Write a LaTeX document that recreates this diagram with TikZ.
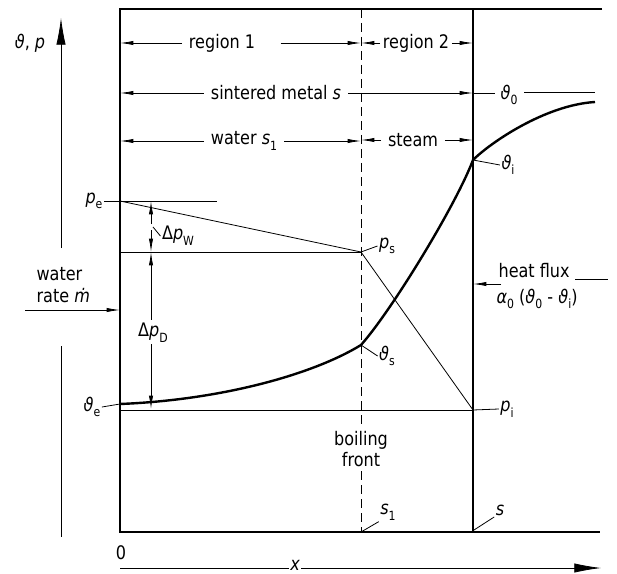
\documentclass[tikz,border=0pt]{standalone}
\usepackage{fontspec}
\setmainfont{DejaVu Sans}[FakeStretch=0.86]
\usetikzlibrary{arrows.meta}
\newcommand\sbs[1]{\raisebox{-0.55ex}{\fontsize{9.5}{10}\selectfont #1}}
\newcommand\itx[1]{{\itshape #1}}
\tikzset{
  every node/.style={font=\fontsize{14}{16}\selectfont, inner sep=1pt},
  thinline/.style={line width=0.6pt},
  arr/.style={thinline, -{Latex[length=10pt,width=3.2pt]}},
  bigarr/.style={thinline, -{Latex[length=20pt,width=7pt]}},
  wall/.style={line width=1.4pt},
  curve/.style={line width=1.8pt},
  front/.style={line width=0.7pt, dash pattern=on 7pt off 3.5pt},
  lbl/.style={inner sep=1pt},
  gap/.style={inner sep=5pt}
}
\begin{document}
\begin{tikzpicture}[x=0.75pt,y=-0.75pt]
\useasboundingbox (0,0) rectangle (617,574);
% frame coordinates
\coordinate (TL) at (120,9);
\coordinate (TR) at (602,9);
\coordinate (BL) at (120,532);
\coordinate (BR) at (600,532);
\coordinate (Ft) at (361,9);
\coordinate (Fb) at (361,532);
\coordinate (Wt) at (473,9);
\coordinate (Wb) at (473,532);
% key points
\coordinate (Pe) at (120,201);
\coordinate (PeEnd) at (217,201);
\coordinate (PsL) at (120,252);
\coordinate (Ps) at (361,252);
\coordinate (PiL) at (120,410);
\coordinate (Pi) at (473,410);
\coordinate (Te) at (120,404);
\coordinate (Ts) at (361,345);
\coordinate (Ti) at (473,160);
\coordinate (Tend) at (595,102);
\coordinate (T0end) at (595,92);
% frame
\draw[wall] (TR) -- (TL) -- (BL) -- (BR);
\draw[wall] (Wt) -- (Wb);
\draw[front] (Ft) -- (Fb);
% boiling front label (covers dashed line)
\node[fill=white, align=center, inner sep=3pt] (bf) at (361,449) {boiling\\front};
% axes
\coordinate (Yt) at (61,18);
\coordinate (Ym1) at (61,248);
\coordinate (Ym2) at (61,346);
\coordinate (Yb) at (61,537);
\draw[bigarr] (Ym1) -- (Yt);
\draw[thinline] (Ym2) -- (Yb);
\node[lbl] (ylab) at (30,43) {\itx{ϑ}, \itx{p}};
\node[lbl] (zero) at (121,553) {0};
\node[lbl] (xlab) at (295,565) {\itx{x}};
\coordinate (Xl) at (120,568);
\coordinate (Xr) at (601,568);
\draw[thinline] (Xl) -- (xlab.west |- Xl);
\draw[bigarr] (xlab.east |- Xr) -- (Xr);
% row 1: regions
\node[gap] (r1) at (222,43) {region 1};
\draw[arr] (r1.west) -- (r1.west -| TL);
\draw[arr] ([xshift=14pt]r1.east) -- (r1.east -| Ft);
\node[inner sep=2pt] (r2) at (416,43) {region 2};
\draw[arr] (r2.west) -- (r2.west -| Ft);
\draw[arr] (r2.east) -- (r2.east -| Wt);
% row 2: sintered metal
\node[gap] (sm) at (276,93) {sintered metal \itx{s}};
\draw[arr] (sm.west) -- (sm.west -| TL);
\draw[arr] (sm.east) -- (sm.east -| Wt);
\node[lbl] (t0) at (509,95) {\itx{ϑ}\sbs{0}};
\draw[thinline] (sm.east -| Wt) -- ([xshift=-3pt]t0.west |- sm.east);
\draw[thinline] ([xshift=4pt]t0.east |- T0end) -- (T0end);
% row 3: water / steam
\node[gap] (ws) at (244,141) {water \itx{s}\sbs{1}};
\draw[arr] (ws.west) -- (ws.west -| TL);
\draw[arr] (ws.east) -- (ws.east -| Ft);
\node[gap] (st) at (413,140) {steam};
\draw[arr] (st.west) -- (st.west -| Ft);
\draw[arr] (st.east) -- (st.east -| Wt);
% pressure lines
\draw[thinline] (Pe) -- (PeEnd);
\draw[thinline] (Pe) -- (Ps);
\draw[thinline] (PsL) -- (Ps);
\draw[thinline] (Ps) -- (Pi);
\draw[thinline] (PiL) -- (Pi);
% temperature curve
\draw[curve] (Te) .. controls (220,400) and (312,375) .. (Ts)
  .. controls (392,310) and (456,205) .. (Ti)
  .. controls (490,143) and (545,105) .. (Tend);
% delta p arrows
\coordinate (DW1) at (151,224);
\coordinate (DW2) at (151,230);
\coordinate (DWt) at (151,201);
\coordinate (DWb) at (151,252);
\draw[arr] (DW1) -- (DWt);
\draw[arr] (DW2) -- (DWb);
\node[lbl] (dpw) at (178,236) {Δ\itx{p}\sbs{W}};
\coordinate (DWm) at (153,227);
\draw[thinline] (DWm) -- (dpw.west);
\node[lbl] (dpd) at (153,333) {Δ\itx{p}\sbs{D}};
\coordinate (DDt) at (151,252);
\coordinate (DDb) at (151,409);
\draw[arr] (dpd.north -| DDt) ++(0,-2) -- (DDt);
\draw[arr] (dpd.south -| DDb) -- (DDb);
% point labels
\node[lbl] (pe) at (94,201) {\itx{p}\sbs{e}};
\draw[thinline] (pe.east) -- (Pe);
\node[lbl] (te) at (92,407) {\itx{ϑ}\sbs{e}};
\draw[thinline] (te.east) -- (Te);
\node[lbl] (ps) at (387,246) {\itx{p}\sbs{s}};
\draw[thinline] (Ps) -- (ps.west);
\node[lbl] (ts) at (387,356) {\itx{ϑ}\sbs{s}};
\draw[thinline] (Ts) -- (ts.west);
\node[lbl] (pi) at (507,409) {\itx{p}\sbs{i}};
\draw[thinline] (Pi) -- (pi.west);
\node[lbl] (ti) at (508,165) {\itx{ϑ}\sbs{i}};
\draw[thinline] (Ti) -- (ti.west);
% water rate
\node[lbl, align=left, anchor=west] (wr) at (35,285) {water\\rate \itx{ṁ}};
\coordinate (Wa) at (25,310);
\draw[arr] (Wa) -- (Wa -| TL);
% heat flux
\node[lbl, anchor=west] (hf) at (497,271) {heat flux};
\coordinate (HFr) at (608,279);
\draw[thinline] ([xshift=3pt]hf.east |- HFr) -- (HFr);
\coordinate (Ha) at (501,284);
\draw[arr] (Ha) -- (Ha -| Wt);
\node[lbl, anchor=west] (hq) at (495,299) {\itx{α}\sbs{0} (\itx{ϑ}\sbs{0} - \itx{ϑ}\sbs{i})};
% s labels
\node[lbl] (s1) at (388,512) {\itx{s}\sbs{1}};
\draw[thinline] (Fb) -- (s1.south west);
\node[lbl] (s) at (500,510) {\itx{s}};
\coordinate (Wb2) at (474,530);
\draw[thinline] (Wb2) -- (s.south west);
\end{tikzpicture}
\end{document}
